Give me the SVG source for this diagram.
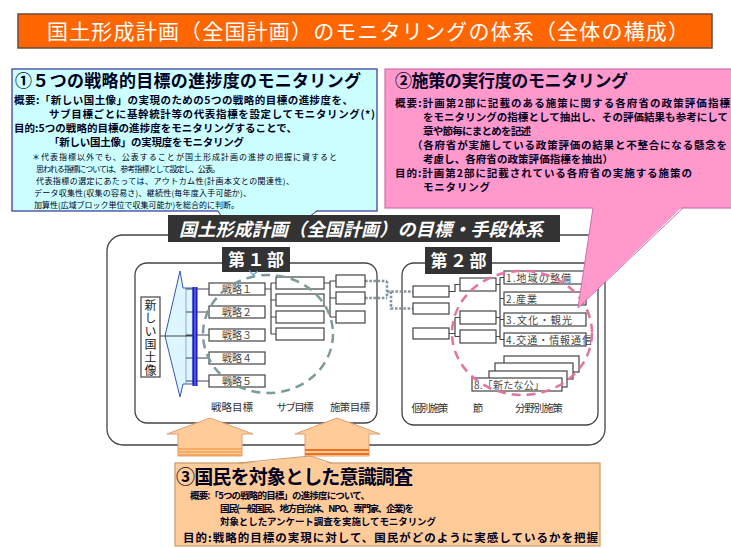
<svg xmlns="http://www.w3.org/2000/svg" width="731" height="548" viewBox="0 0 731 548">
<defs>
<style>
text{font-family:"Noto Sans CJK JP","Noto Sans CJK SC",sans-serif;}
.b{font-weight:bold;}
.dk{fill:#000022;}
.box{fill:#fff;stroke:#444;stroke-width:1.2;}
.lbl{font-size:10.5px;fill:#333;text-anchor:middle;}
.in{font-size:10px;fill:#444;}
.cn{fill:none;stroke:#444;stroke-width:1.2;}
.frame{fill:#fff;stroke:#444;stroke-width:1.3;}
</style>
</defs>
<rect width="731" height="548" fill="#fff"/>

<g id="title">
<rect x="18" y="14" width="694" height="34" fill="#FF6600" stroke="#6b4a3a" stroke-width="1.5"/>
<text x="47" y="39" font-size="21" fill="#fff" textLength="642">国土形成計画（全国計画）のモニタリングの体系（全体の構成）</text>
</g>

<g id="frame">
<rect class="frame" x="107" y="235" width="498" height="210" rx="16"/>
<rect class="frame" x="135" y="263" width="242" height="160" rx="12"/>
<rect class="frame" x="402" y="263" width="196" height="162" rx="12"/>
</g>

<g id="part1-label">
<rect x="222" y="247" width="68" height="25" fill="#333"/>
<text x="256" y="266" font-size="17" class="b" fill="#fff" text-anchor="middle" textLength="56">第１部</text>
</g>
<g id="part2-label">
<rect x="425" y="247" width="67" height="27" fill="#333"/>
<text x="458.5" y="267" font-size="17" class="b" fill="#fff" text-anchor="middle" textLength="56">第２部</text>
</g>

<g id="vision">
<polygon points="165,336 180,271 183,288 193,288 193,384 183,384 180,397" fill="#DDF6FF" stroke="#3355BB" stroke-width="1"/>
<line x1="186" y1="288" x2="186" y2="384" stroke="#7799BB" stroke-width="0.8"/>
<rect x="141" y="297" width="19" height="80" class="box"/>
<text x="150.5" y="299" font-size="12" fill="#222" letter-spacing="1" style="writing-mode:vertical-rl">新しい国土像</text>
</g>

<g id="connectors">
<path class="cn" stroke-width="0.8" d="M160,336 H193 M186,289 H209 M186,312 H209 M186,335 H209 M186,358 H209 M186,381 H209"/>
<rect x="192.5" y="287" width="5" height="99" fill="#1a1acc"/>
<line x1="195" y1="287" x2="195" y2="386" stroke="#8888ff" stroke-width="1"/>
<path class="cn" d="M265,289 H271 M271,283 V334 M271,283 H276 M271,300 H276 M271,317 H276 M271,334 H276"/>
<path class="cn" d="M324,283 H330 M330,281 V317 M330,281 H336 M330,298 H336 M330,317 H336"/>
<path fill="none" stroke="#8394A4" stroke-width="2.6" stroke-dasharray="2.6,1.6" d="M365,281 H387 M365,298 H387 M387,281 V298 M387,291.5 H413 M391,291.5 V308.5 H413"/>
<path class="cn" d="M449,291.5 H455 V284.5 H460 M449,333.5 H455 M455,317.5 V336.5 M455,317.5 H460 M455,336.5 H460"/>
<path class="cn" d="M496,284.5 H500 M496,317.5 H500 M496,336.5 H500 M500,277.5 V339.5 M500,277.5 H504 M500,298.5 H504 M500,319.5 H504 M500,339.5 H504"/>
</g>

<g id="strategies">
<rect class="box" x="209" y="283" width="56" height="12"/>
<rect class="box" x="209" y="306" width="56" height="12"/>
<rect class="box" x="209" y="329" width="56" height="12"/>
<rect class="box" x="209" y="352" width="56" height="12"/>
<rect class="box" x="209" y="375" width="56" height="12"/>
<text class="in" x="237" y="293" text-anchor="middle">戦略１</text>
<text class="in" x="237" y="316" text-anchor="middle">戦略２</text>
<text class="in" x="237" y="339" text-anchor="middle">戦略３</text>
<text class="in" x="237" y="362" text-anchor="middle">戦略４</text>
<text class="in" x="237" y="385" text-anchor="middle">戦略５</text>
</g>

<g id="subgoals">
<rect class="box" x="276" y="277" width="48" height="12"/>
<rect class="box" x="276" y="294" width="48" height="12"/>
<rect class="box" x="276" y="311" width="48" height="12"/>
<rect class="box" x="276" y="328" width="48" height="12"/>
</g>
<g id="measures1">
<rect class="box" x="336" y="275" width="29" height="12"/>
<rect class="box" x="336" y="292" width="29" height="12"/>
<rect class="box" x="336" y="311" width="29" height="12"/>
</g>

<g id="individual">
<rect class="box" x="413" y="286" width="36" height="11"/>
<rect class="box" x="413" y="303" width="36" height="11"/>
<rect class="box" x="413" y="328" width="36" height="11"/>
</g>
<g id="sections">
<rect class="box" x="460" y="278" width="36" height="13"/>
<rect class="box" x="460" y="311" width="36" height="13"/>
<rect class="box" x="460" y="330" width="36" height="13"/>
</g>
<g id="fields">
<rect class="box" x="504" y="271" width="82" height="13"/>
<rect class="box" x="504" y="292" width="82" height="13"/>
<rect class="box" x="504" y="313" width="82" height="13"/>
<rect class="box" x="504" y="333" width="82" height="13"/>
<text class="in" font-size="10.5" x="506" y="282" textLength="65">1.地域の整備</text>
<text class="in" font-size="10.5" x="506" y="303" textLength="31">2.産業</text>
<text class="in" font-size="10.5" x="506" y="324" textLength="66">3.文化・観光</text>
<text class="in" font-size="10.5" x="506" y="344" textLength="86">4.交通・情報通信</text>
<rect class="box" x="504" y="356" width="75" height="16"/>
<rect class="box" x="495" y="363" width="78" height="16"/>
<rect class="box" x="489" y="371" width="78" height="16"/>
<rect class="box" x="472" y="378" width="90" height="13"/>
<text class="in" font-size="10.5" x="474" y="389" textLength="70">8.「新たな公」</text>
</g>

<g id="cycles">
<ellipse cx="268" cy="334" rx="65" ry="59" fill="none" stroke="#7C9C9C" stroke-width="2.5" stroke-dasharray="9,6"/>
<path d="M249,270 L253,275 L258,271" fill="none" stroke="#5599DD" stroke-width="1.2"/>
<ellipse cx="522" cy="333" rx="70" ry="62" fill="none" stroke="#E5739F" stroke-width="2.5" stroke-dasharray="9,6"/>
</g>

<g id="col-labels">
<text class="lbl" x="232" y="411" textLength="42">戦略目標</text>
<text class="lbl" x="295" y="411" textLength="37">サブ目標</text>
<text class="lbl" x="350" y="411" textLength="40">施策目標</text>
<text class="lbl" x="430" y="412" textLength="37">個別施策</text>
<text class="lbl" x="478" y="412">節</text>
<text class="lbl" x="539" y="412" textLength="48">分野別施策</text>
</g>

<g id="box1">
<rect x="12" y="69" width="365" height="142" fill="#CCFFFF" stroke="#333399" stroke-width="1.2"/>
<polygon points="218,210 317,210 306,220 222,220" fill="#CCFFFF"/>
<path d="M218,211 L223,219 M317,211 L306,219" stroke="#333399" stroke-width="1" fill="none"/>
<text class="b dk" x="15" y="87" font-size="17" textLength="346">①５つの戦略的目標の進捗度のモニタリング</text>
<text class="b dk" x="14" y="104" font-size="10.5" textLength="339">概要:「新しい国土像」の実現のための5つの戦略的目標の進捗度を、</text>
<text class="b dk" x="49" y="118" font-size="10.5" textLength="326">サブ目標ごとに基幹統計等の代表指標を設定してモニタリング(*)</text>
<text class="b dk" x="14" y="132" font-size="10.5" textLength="283">目的:5つの戦略的目標の進捗度をモニタリングすることで、</text>
<text class="b dk" x="49" y="146" font-size="10.5" textLength="195">「新しい国土像」の実現度をモニタリング</text>
<text class="dk" x="32" y="160" font-size="8" textLength="305">＊代表指標以外でも、公表することが国土形成計画の進捗の把握に資すると</text>
<text class="dk" x="36" y="172" font-size="8" textLength="184">思われる指標については、参考指標として設定し、公表。</text>
<text class="dk" x="36" y="184" font-size="8" textLength="258">代表指標の選定にあたっては、アウトカム性(計画本文との関連性)、</text>
<text class="dk" x="34" y="196" font-size="8" textLength="217">データ収集性(収集の容易さ)、継続性(毎年度入手可能か)、</text>
<text class="dk" x="34" y="208" font-size="8" textLength="205">加算性(広域ブロック単位で収集可能か)を総合的に判断。</text>
</g>

<g id="box2">
<rect x="385" y="69" width="350" height="139" fill="#FF99CC" stroke="#D070B0" stroke-width="1.2"/>
<polygon points="593,206 683,206 578,308" fill="#FF99CC"/>
<path d="M593,208 L578,308 L683,208" fill="none" stroke="#D070B0" stroke-width="1"/>
<text class="b dk" x="395" y="87" font-size="17" textLength="233">②施策の実行度のモニタリング</text>
<text class="b dk" x="395" y="107" font-size="10.5" textLength="335">概要:計画第2部に記載のある施策に関する各府省の政策評価指標</text>
<text class="b dk" x="423" y="121" font-size="10.5" textLength="305">をモニタリングの指標として抽出し、その評価結果も参考にして</text>
<text class="b dk" x="423" y="135" font-size="10.5" textLength="108">章や節毎にまとめを記述</text>
<text class="b dk" x="412" y="149" font-size="10.5" textLength="315">（各府省が実施している政策評価の結果と不整合になる懸念を</text>
<text class="b dk" x="423" y="163" font-size="10.5" textLength="190">考慮し、各府省の政策評価指標を抽出）</text>
<text class="b dk" x="395" y="177" font-size="10.5" textLength="297">目的:計画第2部に記載されている各府省の実施する施策の</text>
<text class="b dk" x="423" y="191" font-size="10.5" textLength="67">モニタリング</text>
</g>

<g id="banner">
<rect x="168" y="215" width="392" height="27" fill="#333"/>
<text x="179" y="236" font-size="18" class="b" font-style="italic" fill="#fff" textLength="364">国土形成計画（全国計画）の目標・手段体系</text>
</g>

<g id="arrows">
<polygon points="167,434 210,418 253,434 242,434 242,456 178,456 178,434" fill="#FFCC99" stroke="#E0A070" stroke-width="1"/>
<path d="M178,449 H242 M178,452 H242 M178,455 H242" stroke="#F08A30" stroke-width="1.2"/>
<polygon points="295,434 337,418 380,434 369,434 369,456 305,456 305,434" fill="#FFCC99" stroke="#E0A070" stroke-width="1"/>
<path d="M305,450 H369 M305,454 H369" stroke="#EE7020" stroke-width="2"/>
</g>

<g id="box3">
<rect x="175" y="463" width="425" height="83" fill="#FFCC99" stroke="#C89B6A" stroke-width="1.2"/>
<polygon points="238,464.5 310,456 332,464.5" fill="#FFCC99"/>
<path d="M238,463 L310,456 L332,463" fill="none" stroke="#C89B6A" stroke-width="1"/>
<text class="b dk" x="176" y="484" font-size="19" textLength="237">③国民を対象とした意識調査</text>
<text class="b dk" x="190" y="499" font-size="9.5" textLength="180">概要:「5つの戦略的目標」の進捗度について、</text>
<text class="b dk" x="220" y="512" font-size="9.5" textLength="194">国民(一般国民、地方自治体、NPO、専門家、企業)を</text>
<text class="b dk" x="220" y="525" font-size="9.5" textLength="216">対象としたアンケート調査を実施してモニタリング</text>
<text class="b dk" x="183" y="542" font-size="11.5" textLength="415">目的:戦略的目標の実現に対して、国民がどのように実感しているかを把握</text>
</g>
</svg>
